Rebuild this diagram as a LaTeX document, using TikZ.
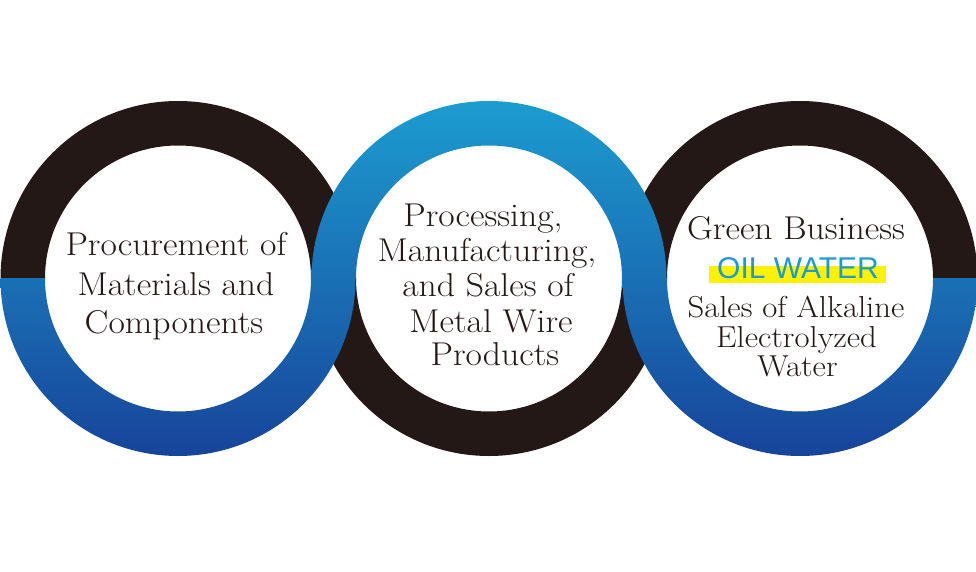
\documentclass[tikz,border=0pt]{standalone}
\usepackage{fontspec}
\setmainfont{Latin Modern Roman}[FakeStretch=1.08]
\newfontfamily\oilfont{Liberation Sans}
\definecolor{ringblack}{HTML}{231815}
\definecolor{bluetop}{HTML}{1C9CD0}
\definecolor{bluemid}{HTML}{1670B8}
\definecolor{bluebot}{HTML}{17449A}
\definecolor{oilblue}{HTML}{1B9AD6}
\definecolor{hlyellow}{HTML}{FFF200}
\begin{document}
\begin{tikzpicture}[x=1pt,y=1pt,
  lbl/.style={anchor=base,inner sep=0pt,text=ringblack,font=\fontsize{33}{38}\selectfont},
  lblsmall/.style={lbl,font=\fontsize{30.3}{34}\selectfont},
  oil/.style={anchor=base,inner sep=0pt,text=oilblue,font=\oilfont\fontsize{30}{34}\selectfont}]
\useasboundingbox (0,0) rectangle (976,571);
\def\cy{292.5}
\def\R{177.5}
\def\r{133}
% black halves
\foreach \cx/\up in {178/1,489/0,800/1}{
  \begin{scope}
    \ifnum\up=1
      \clip (\cx-\R-2,\cy) rectangle (\cx+\R+2,\cy+\R+2);
    \else
      \clip (\cx-\R-2,\cy-\R-2) rectangle (\cx+\R+2,\cy);
    \fi
    \fill[ringblack,even odd rule] (\cx,\cy) circle (\R) (\cx,\cy) circle (\r);
  \end{scope}
}
% blue halves
\foreach \cx/\up in {178/0,489/1,800/0}{
  \begin{scope}
    \ifnum\up=1
      \clip (\cx-\R-2,\cy) rectangle (\cx+\R+2,\cy+\R+2);
    \else
      \clip (\cx-\R-2,\cy-\R-2) rectangle (\cx+\R+2,\cy);
    \fi
    \begin{scope}[even odd rule]
      \clip (\cx,\cy) circle (\R) (\cx,\cy) circle (\r);
      \shade[top color=bluetop,middle color=bluemid,bottom color=bluebot]
        (\cx-\R-2,\cy-\R) rectangle (\cx+\R+2,\cy+\R);
    \end{scope}
  \end{scope}
}
% left texts
\node[lbl] (l1) at (176,316) {Procurement of};
\node[lbl] (l2) at (176,276) {Materials and};
\node[lbl] (l3) at (174,238) {Components};
% middle texts
\node[lbl] (m1) at (483,344) {Processing,};
\node[lbl] (m2) at (487,310) {Manufacturing,};
\node[lbl] (m3) at (488,275) {and Sales of};
\node[lbl] (m4) at (491,239) {Metal Wire};
\node[lbl] (m5) at (495,206) {Products};
% right texts
\node[lbl] (r1) at (796,331) {Green Business};
\fill[hlyellow] (709,288) rectangle (886,305);
\node[oil] (oilw) at (798,293) {OIL WATER};
\node[lblsmall] (r2) at (796,254) {Sales of Alkaline};
\node[lblsmall] (r3) at (796.5,224) {Electrolyzed};
\node[lblsmall] (r4) at (797.5,195) {Water};
\end{tikzpicture}
\end{document}
